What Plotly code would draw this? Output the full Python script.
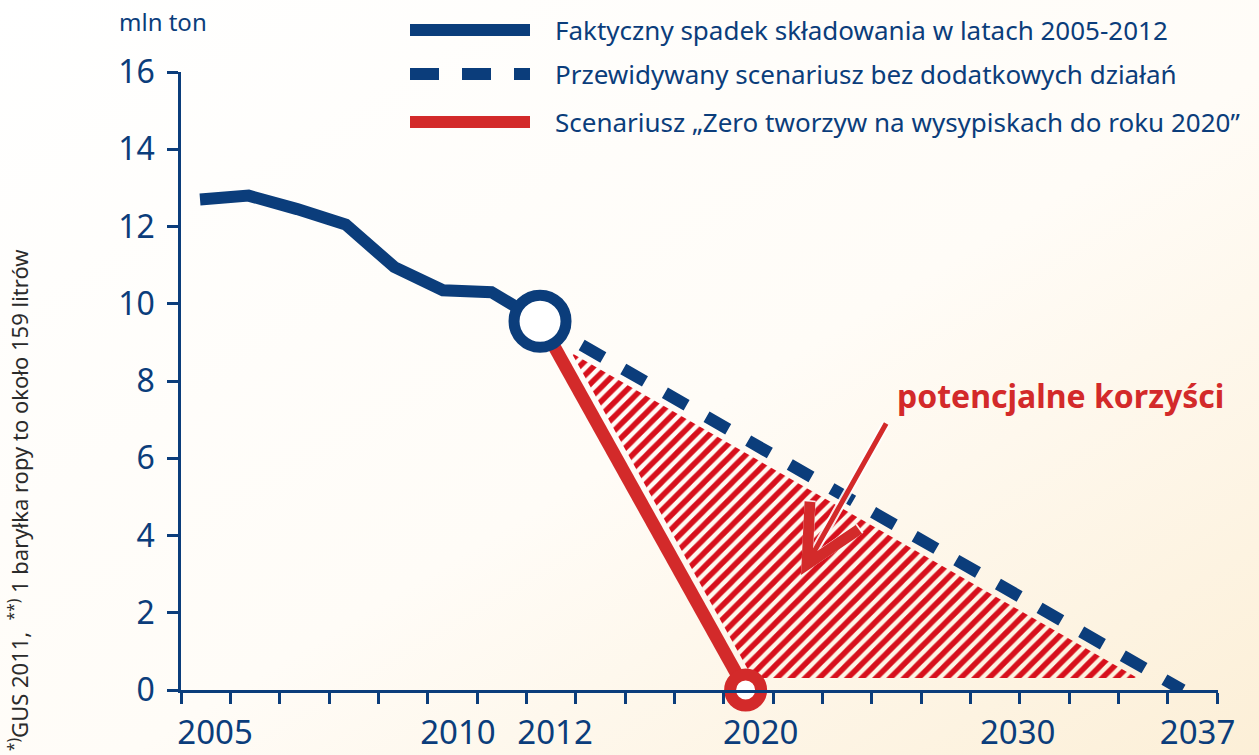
import base64
import math
import plotly.graph_objects as go

# ---------------- data ----------------
hist_years = [2005, 2006, 2007, 2008, 2009, 2010, 2011, 2012]
hist_values = [12.7, 12.8, 12.45, 12.05, 10.95, 10.35, 10.3, 9.55]

base_years = [2012, 2037]          # scenario without additional actions
base_values = [9.55, 0.0]

zero_years = [2012, 2020]          # "zero plastics to landfill by 2020"
zero_values = [9.55, 0.0]

x_tick_years = [2005, 2010, 2012, 2020, 2030, 2037]
y_tick_values = [0, 2, 4, 6, 8, 10, 12, 14, 16]

legend_labels = [
    "Faktyczny spadek składowania w latach 2005-2012",
    "Przewidywany scenariusz bez dodatkowych działań",
    "Scenariusz „Zero tworzyw na wysypiskach do roku 2020”",
]
benefit_label = "potencjalne korzyści"
unit_label = "mln ton"
footnote = "<sup>*)</sup>GUS 2011,  <sup>**)</sup> 1 baryłka ropy to około 159 litrów"

# ---------------- style ----------------
NAVY = "#0B3D7B"
RED = "#D32A2A"
HATCH = "#D7101C"
FONT = "Noto Sans"

# the historic period is drawn on a stretched scale (broken time axis)
HIST_STRETCH = 1.89
PIVOT = 2012


def to_axis(year):
    return PIVOT - (PIVOT - year) * HIST_STRETCH if year < PIVOT else year


def axis_list(years):
    return [to_axis(y) for y in years]


X_RANGE = [1998.03, 2038.38]
Y_RANGE = [0, 16]
MINOR_DTICK = 1.92

PW, PH, ML, MT = 1037.0, 618.0, 181.0, 72.0


def to_px(xa, y):
    return (ML + (xa - X_RANGE[0]) / (X_RANGE[1] - X_RANGE[0]) * PW,
            MT + PH - (y - Y_RANGE[0]) / (Y_RANGE[1] - Y_RANGE[0]) * PH)


def from_px(px, py):
    return (X_RANGE[0] + (px - ML) / PW * (X_RANGE[1] - X_RANGE[0]),
            Y_RANGE[0] + (MT + PH - py) / PH * (Y_RANGE[1] - Y_RANGE[0]))


def inset_triangle(xs, ys, gap):
    """Shrink a triangle about its incenter so every side moves in by gap px."""
    pts = [to_px(x, y) for x, y in zip(xs, ys)]
    a = math.dist(pts[1], pts[2])
    b = math.dist(pts[0], pts[2])
    c = math.dist(pts[0], pts[1])
    per = a + b + c
    ix = (a * pts[0][0] + b * pts[1][0] + c * pts[2][0]) / per
    iy = (a * pts[0][1] + b * pts[1][1] + c * pts[2][1]) / per
    s = per / 2
    area = math.sqrt(max(s * (s - a) * (s - b) * (s - c), 0))
    r = area / s
    k = (r - gap) / r
    out = [from_px(ix + (px - ix) * k, iy + (py - iy) * k) for px, py in pts]
    return [p[0] for p in out] + [out[0][0]], [p[1] for p in out] + [out[0][1]]


fig = go.Figure()

# hatched area between the two scenarios
tri_x = [to_axis(zero_years[0]), to_axis(zero_years[1]), to_axis(base_years[1])]
tri_y = [zero_values[0], zero_values[1], base_values[1]]
hx, hy = inset_triangle(tri_x, tri_y, 12)
fig.add_trace(go.Scatter(
    x=hx, y=hy, mode="lines", fill="toself",
    fillcolor="rgba(0,0,0,0)",
    fillpattern=dict(shape="/", fgcolor=HATCH, fgopacity=1,
                     bgcolor="rgba(0,0,0,0)",
                     size=10, solidity=0.55, fillmode="overlay"),
    line=dict(width=0), hoverinfo="skip", showlegend=False, cliponaxis=False,
))

# zero-by-2020 scenario
fig.add_trace(go.Scatter(
    x=axis_list(zero_years), y=zero_values, mode="lines",
    line=dict(color=RED, width=13), showlegend=False, cliponaxis=False,
))

# baseline scenario
fig.add_trace(go.Scatter(
    x=axis_list(base_years), y=base_values, mode="lines",
    line=dict(color=NAVY, width=12, dash="25px,23px"),
    showlegend=False, cliponaxis=False,
))

# actual history
fig.add_trace(go.Scatter(
    x=axis_list(hist_years), y=hist_values, mode="lines",
    line=dict(color=NAVY, width=12), showlegend=False, cliponaxis=False,
))

# circles
fig.add_trace(go.Scatter(
    x=[to_axis(zero_years[1])], y=[zero_values[1]], mode="markers",
    marker=dict(symbol="circle", size=31, color="white",
                line=dict(color=RED, width=12)),
    showlegend=False, cliponaxis=False,
))
fig.add_trace(go.Scatter(
    x=[to_axis(hist_years[-1])], y=[hist_values[-1]], mode="markers",
    marker=dict(symbol="circle", size=52, color="white",
                line=dict(color=NAVY, width=11)),
    showlegend=False, cliponaxis=False,
))

# ---------------- custom legend & texts ----------------
def px_x(p):
    return (p - ML) / PW


def px_y(p):
    return (MT + PH - p) / PH


legend_rows = [30, 74, 122]
legend_styles = [
    dict(color=NAVY, width=12),
    dict(color=NAVY, width=12, dash="29px,23px"),
    dict(color=RED, width=12),
]
shapes = []
annotations = []
for row, style, label in zip(legend_rows, legend_styles, legend_labels):
    shapes.append(dict(type="line", xref="paper", yref="paper",
                       x0=px_x(410), x1=px_x(530), y0=px_y(row), y1=px_y(row),
                       line=style))
    annotations.append(dict(xref="paper", yref="paper", x=px_x(553), y=px_y(row),
                            text=label, showarrow=False, xanchor="left",
                            yanchor="middle",
                            font=dict(family=FONT, size=26, color=NAVY)))

annotations.append(dict(xref="paper", yref="paper", x=px_x(163), y=px_y(22),
                        text=unit_label, showarrow=False, xanchor="center",
                        yanchor="middle",
                        font=dict(family=FONT, size=24, color=NAVY)))

annotations.append(dict(xref="paper", yref="paper", x=px_x(18), y=px_y(500),
                        text=footnote, showarrow=False, textangle=-90,
                        xanchor="center", yanchor="middle",
                        font=dict(family=FONT, size=22, color="#2B2B2B")))

annotations.append(dict(xref="paper", yref="paper", x=px_x(1060), y=px_y(395),
                        text="<b>%s</b>" % benefit_label, showarrow=False,
                        xanchor="center", yanchor="middle",
                        font=dict(family=FONT, size=32, color=RED)))

# arrow pointing to the hatched area (white outline + red arrow)
tip_x, tip_y = from_px(801, 575)
tail_x, tail_y = from_px(887, 422)
annotations.append(dict(x=tip_x, y=tip_y, ax=tail_x, ay=tail_y, xref="x", yref="y",
                        axref="x", ayref="y", text="", showarrow=True,
                        arrowhead=5, arrowwidth=9, arrowsize=1.25,
                        arrowcolor="rgba(255,255,255,0.9)"))
annotations.append(dict(x=tip_x, y=tip_y, ax=tail_x, ay=tail_y, xref="x", yref="y",
                        axref="x", ayref="y", text="", showarrow=True,
                        arrowhead=5, arrowwidth=5, arrowsize=2.2,
                        arrowcolor=RED))

# ---------------- background gradient ----------------
svg = ('<svg xmlns="http://www.w3.org/2000/svg" width="1259" height="755" '
       'viewBox="0 0 1259 755" preserveAspectRatio="none">'
       '<defs><linearGradient id="g" x1="0" y1="0" x2="1" y2="1">'
       '<stop offset="0" stop-color="#FFFFFF"/>'
       '<stop offset="0.55" stop-color="#FFFCF7"/>'
       '<stop offset="1" stop-color="#FCEFD7"/>'
       '</linearGradient></defs>'
       '<rect width="1259" height="755" fill="url(#g)"/></svg>')
bg_uri = "data:image/svg+xml;base64," + base64.b64encode(svg.encode()).decode()

fig.update_layout(
    width=1259, height=755, autosize=False,
    margin=dict(l=181, r=41, t=72, b=65, autoexpand=False),
    paper_bgcolor="white", plot_bgcolor="rgba(0,0,0,0)",
    showlegend=False,
    shapes=shapes, annotations=annotations,
    images=[dict(source=bg_uri, xref="paper", yref="paper",
                 x=-ML / PW, y=1 + MT / PH, sizex=1259 / PW, sizey=755 / PH,
                 sizing="stretch", xanchor="left", yanchor="top", layer="below")],
    xaxis=dict(
        range=X_RANGE, showgrid=False, zeroline=False, automargin=False,
        showline=True, linecolor=NAVY, linewidth=2.5,
        tickmode="array", tickvals=axis_list(x_tick_years),
        ticktext=[str(y) for y in x_tick_years],
        ticks="", ticklabelstandoff=12, ticklabelshift=15,
        tickfont=dict(family=FONT, size=33, color=NAVY),
        minor=dict(ticks="outside", ticklen=11, tickwidth=2.5, tickcolor=NAVY,
                   tickmode="linear", tick0=X_RANGE[0], dtick=MINOR_DTICK,
                   showgrid=False),
    ),
    yaxis=dict(
        range=Y_RANGE, showgrid=False, zeroline=False, automargin=False,
        showline=True, linecolor=NAVY, linewidth=2.5,
        tickmode="array", tickvals=y_tick_values,
        ticks="outside", ticklen=11, tickwidth=2.5, tickcolor=NAVY,
        ticklabelstandoff=6,
        tickfont=dict(family=FONT, size=32, color=NAVY),
    ),
)

fig.write_html(
    "out.html",
    config={"displayModeBar": False},
    post_script="document.body.style.margin='0';document.body.style.overflow='hidden';",
)
